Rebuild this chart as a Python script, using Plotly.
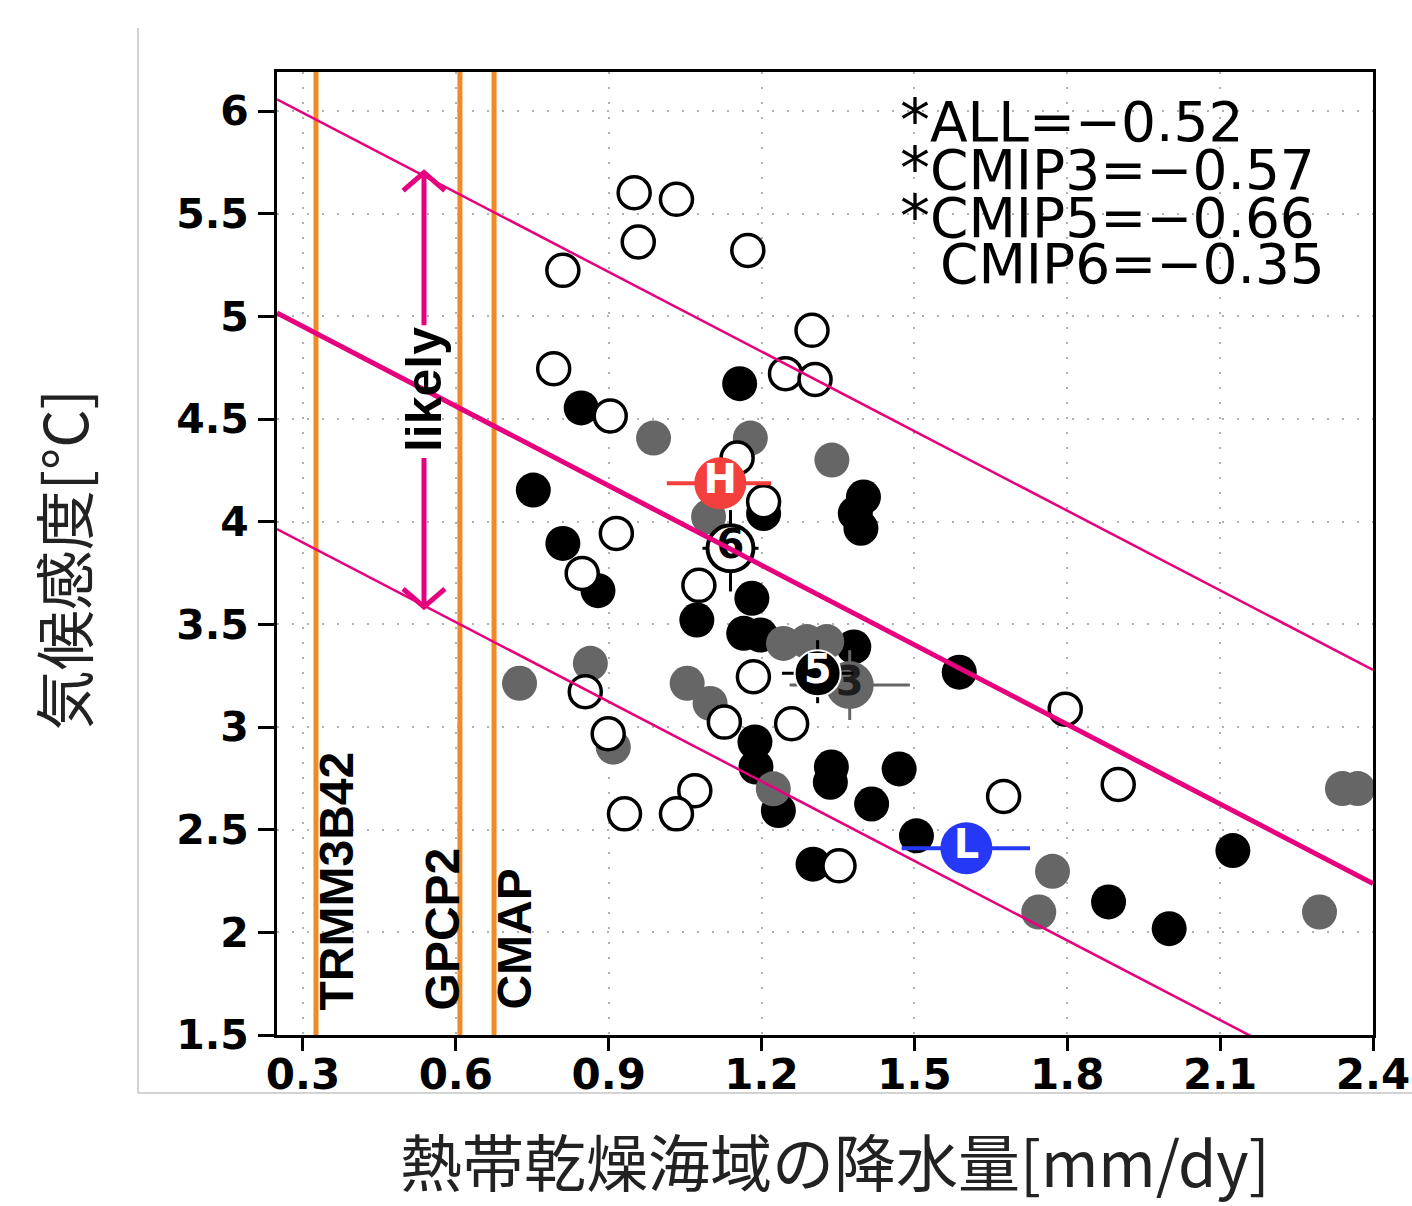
import plotly.graph_objects as go

# ---------------- data ----------------
# CMIP6 (open circles)
cmip6_x = [0.950, 1.033, 0.958, 1.173, 0.810, 1.299, 0.792, 1.247, 1.305, 0.903,
           1.152, 1.204, 0.915, 0.848, 1.077, 1.184, 0.854, 0.899, 1.127, 1.259,
           1.069, 1.033, 0.931, 1.352, 1.675, 1.900, 1.796]
cmip6_y = [5.602, 5.570, 5.362, 5.321, 5.224, 4.932, 4.745, 4.721, 4.693, 4.515,
           4.310, 4.097, 3.943, 3.748, 3.690, 3.245, 3.172, 2.967, 3.024, 3.016,
           2.690, 2.577, 2.577, 2.324, 2.662, 2.720, 3.087]

# CMIP5 (black circles)
cmip5_x = [1.157, 0.846, 0.752, 0.810, 0.879, 1.204, 1.400, 1.384, 1.395, 1.181,
           1.073, 1.165, 1.198, 1.381, 1.588, 1.187, 1.189, 1.233, 1.337, 1.335,
           1.470, 1.416, 1.504, 1.301, 2.125, 1.881, 2.000]
cmip5_y = [4.672, 4.554, 4.154, 3.894, 3.664, 4.040, 4.120, 4.040, 3.968, 3.627,
           3.521, 3.456, 3.448, 3.390, 3.267, 2.927, 2.805, 2.593, 2.805, 2.731,
           2.796, 2.625, 2.470, 2.332, 2.398, 2.148, 2.018]

# CMIP3 (gray circles)
cmip3_x = [0.988, 1.178, 1.338, 1.096, 1.243, 1.289, 1.328, 0.725, 0.864, 1.054,
           1.099, 0.909, 1.223, 1.771, 1.744, 2.295, 2.340, 2.370]
cmip3_y = [4.407, 4.407, 4.300, 4.024, 3.407, 3.416, 3.416, 3.213, 3.310, 3.213,
           3.115, 2.902, 2.699, 2.297, 2.099, 2.099, 2.700, 2.700]

# special markers: H, L, ensemble means (6, 5, 3)
special_names = ["H", "L", "6", "5", "3"]
special_x = [1.119, 1.602, 1.139, 1.310, 1.373]
special_y = [4.187, 2.410, 3.870, 3.262, 3.204]
special_xerr_minus = [0.105, 0.127, 0.055, 0.070, 0.118]
special_xerr_plus = [0.100, 0.125, 0.055, 0.070, 0.118]
special_yerr_minus = [0.0, 0.0, 0.210, 0.146, 0.170]
special_yerr_plus = [0.0, 0.0, 0.187, 0.161, 0.170]

# regression line and likely range
reg_slope = -1.292
reg_intercepts = [6.379, 5.338, 4.286]   # upper, central, lower
likely_x = 0.5375
likely_low = 3.585
likely_high = 5.700
likely_text_y = 4.641

# observations
obs_names = ["TRMM3B42", "GPCP2", "CMAP"]
obs_values = [0.3255, 0.608, 0.675]

# correlations
corr_groups = ["ALL", "CMIP3", "CMIP5", "CMIP6"]
corr_values = [-0.52, -0.57, -0.66, -0.35]
corr_significant = [True, True, True, False]

x_ticks = [0.3, 0.6, 0.9, 1.2, 1.5, 1.8, 2.1, 2.4]
y_ticks = [1.5, 2.0, 2.5, 3.0, 3.5, 4.0, 4.5, 5.0, 5.5, 6.0]
x_range = [0.249, 2.4]
y_range = [1.5, 6.19]

# ---------------- styles ----------------
PINK = "#e6007e"
ORANGE = "#f08a24"
GRAY = "#666666"
RED = "#f4403c"
BLUE = "#2438f5"
FONT = "Liberation Sans, Arial, sans-serif"
WIDE = "DejaVu Sans, sans-serif"
CJK = "Noto Sans CJK JP, sans-serif"

fig = go.Figure()

# observation lines
for v in obs_values:
    fig.add_trace(go.Scatter(x=[v, v], y=y_range, mode="lines",
                             line=dict(color=ORANGE, width=5),
                             hoverinfo="skip", showlegend=False))

# model points
fig.add_trace(go.Scatter(x=cmip5_x, y=cmip5_y, mode="markers",
                         marker=dict(size=35, color="black", line=dict(width=0)),
                         showlegend=False))
fig.add_trace(go.Scatter(x=cmip3_x, y=cmip3_y, mode="markers",
                         marker=dict(size=35, color=GRAY, line=dict(width=0)),
                         showlegend=False))
fig.add_trace(go.Scatter(x=cmip6_x, y=cmip6_y, mode="markers",
                         marker=dict(size=32, color="white", line=dict(width=3.5, color="black")),
                         showlegend=False))

# special markers
sp_style = {
    "H": dict(fill=RED, line=RED, lw=0, size=52, tcol="white", ecol=RED, et=4, w="bold"),
    "L": dict(fill=BLUE, line=BLUE, lw=0, size=52, tcol="white", ecol=BLUE, et=4, w="bold"),
    "6": dict(fill="white", line="black", lw=4, size=46, tcol="black", ecol="black", et=3, w="bold"),
    "5": dict(fill="black", line="white", lw=2, size=46, tcol="white", ecol="black", et=3, w="bold"),
    "3": dict(fill=GRAY, line=GRAY, lw=0, size=48, tcol="#1e1e1e", ecol=GRAY, et=3, w="bold"),
}
order = ["3", "5", "6", "H", "L"]
for name in order:
    i = special_names.index(name)
    s = sp_style[name]
    fig.add_trace(go.Scatter(
        x=[special_x[i]], y=[special_y[i]], mode="markers+text",
        text=[name], textposition="middle center",
        textfont=dict(family=WIDE, size=40, color=s["tcol"], weight=s["w"]),
        marker=dict(size=s["size"], color=s["fill"], line=dict(width=s["lw"], color=s["line"])),
        error_x=dict(type="data", symmetric=False, array=[special_xerr_plus[i]],
                     arrayminus=[special_xerr_minus[i]], thickness=s["et"], width=0, color=s["ecol"]),
        error_y=dict(type="data", symmetric=False, array=[special_yerr_plus[i]],
                     arrayminus=[special_yerr_minus[i]], thickness=s["et"], width=0, color=s["ecol"]),
        showlegend=False))

# regression lines
for k, a in enumerate(reg_intercepts):
    fig.add_trace(go.Scatter(x=x_range, y=[a + reg_slope * x_range[0], a + reg_slope * x_range[1]],
                             mode="lines",
                             line=dict(color=PINK, width=5 if k == 1 else 2.5),
                             hoverinfo="skip", showlegend=False))

# likely arrow (shafts + open heads)
hw = 0.041   # half width of head in x data units
hh = 0.088   # head height in y data units
gap_hi = 4.957
gap_lo = 4.31
shapes = []
shapes.append(dict(type="line", xref="x", yref="y", x0=likely_x, x1=likely_x,
                   y0=gap_hi, y1=likely_high, line=dict(color=PINK, width=5)))
shapes.append(dict(type="line", xref="x", yref="y", x0=likely_x, x1=likely_x,
                   y0=likely_low, y1=gap_lo, line=dict(color=PINK, width=5)))
shapes.append(dict(type="path", xref="x", yref="y",
                   path=f"M {likely_x-hw},{likely_high-hh} L {likely_x},{likely_high} L {likely_x+hw},{likely_high-hh}",
                   line=dict(color=PINK, width=5)))
shapes.append(dict(type="path", xref="x", yref="y",
                   path=f"M {likely_x-hw},{likely_low+hh} L {likely_x},{likely_low} L {likely_x+hw},{likely_low+hh}",
                   line=dict(color=PINK, width=5)))
# outer light frame
shapes.append(dict(type="line", xref="paper", yref="paper", x0=-0.1268, x1=-0.1268,
                   y0=1.0457, y1=-0.0602, line=dict(color="#c4c4c4", width=1.5)))
shapes.append(dict(type="line", xref="paper", yref="paper", x0=-0.1268, x1=1.04,
                   y0=-0.0602, y1=-0.0602, line=dict(color="#c4c4c4", width=1.5)))

annotations = []
annotations.append(dict(x=likely_x, y=likely_text_y, xref="x", yref="y", text="likely",
                        textangle=-90, showarrow=False, xanchor="center", yanchor="middle",
                        font=dict(family=FONT, size=50, color="black", weight="bold")))

obs_shift = [21, -17, 20]
for name, v, sh in zip(obs_names, obs_values, obs_shift):
    annotations.append(dict(x=v, y=1.612, xref="x", yref="y", text=name, textangle=-90,
                            showarrow=False, xanchor="center", yanchor="bottom", xshift=sh,
                            font=dict(family=FONT, size=48, color="black", weight="bold")))

corr_y = [5.956, 5.722, 5.489, 5.255]
star_x = 1.4678
text_x = 1.5463
for g, v, sig, yy in zip(corr_groups, corr_values, corr_significant, corr_y):
    label = f"{g}={v:.2f}".replace("-", "\u2212")
    if sig:
        label = "<span style='font-size:60px'>*</span>" + label
        xx = star_x
    else:
        xx = text_x
    annotations.append(dict(x=xx, y=yy, xref="x", yref="y", text=label, showarrow=False,
                            xanchor="left", yanchor="middle", height=46,
                            font=dict(family=WIDE, size=55, color="black")))

annotations.append(dict(x=-0.197, y=0.493, xref="paper", yref="paper", text="気候感度[°C]",
                        textangle=-90, showarrow=False, xanchor="center", yanchor="middle",
                        font=dict(family=CJK, size=60, color="#222222")))
annotations.append(dict(x=0.509, y=-0.1298, xref="paper", yref="paper",
                        text="熱帯乾燥海域の降水量[mm/dy]", showarrow=False,
                        xanchor="center", yanchor="middle",
                        font=dict(family=CJK, size=62, color="#222222")))

fig.update_layout(
    width=1412, height=1206,
    margin=dict(l=277, r=39, t=72, b=171, autoexpand=False),
    paper_bgcolor="white", plot_bgcolor="white",
    shapes=shapes, annotations=annotations,
    showlegend=False,
)
fig.update_xaxes(range=x_range, tickvals=x_ticks, ticktext=[f"{t:.1f}" for t in x_ticks],
                 automargin=False,
                 showline=True, mirror=True, linecolor="black", linewidth=3,
                 ticks="outside", ticklen=13, tickwidth=3, tickcolor="black",
                 tickfont=dict(family=WIDE, size=42, color="black", weight="bold"),
                 ticklabelstandoff=-12,
                 showgrid=True, gridcolor="#b0b0b0", gridwidth=2, griddash="2px,13px",
                 zeroline=False)
fig.update_yaxes(range=y_range, tickvals=y_ticks,
                 ticktext=[("%g" % t) for t in y_ticks],
                 automargin=False,
                 showline=True, mirror=True, linecolor="black", linewidth=3,
                 ticks="outside", ticklen=16, tickwidth=3, tickcolor="black",
                 tickfont=dict(family=WIDE, size=41, color="black", weight="bold"),
                 ticklabelstandoff=1,
                 showgrid=True, gridcolor="#b0b0b0", gridwidth=2, griddash="2px,13px",
                 zeroline=False)

fig.write_html("out.html")
